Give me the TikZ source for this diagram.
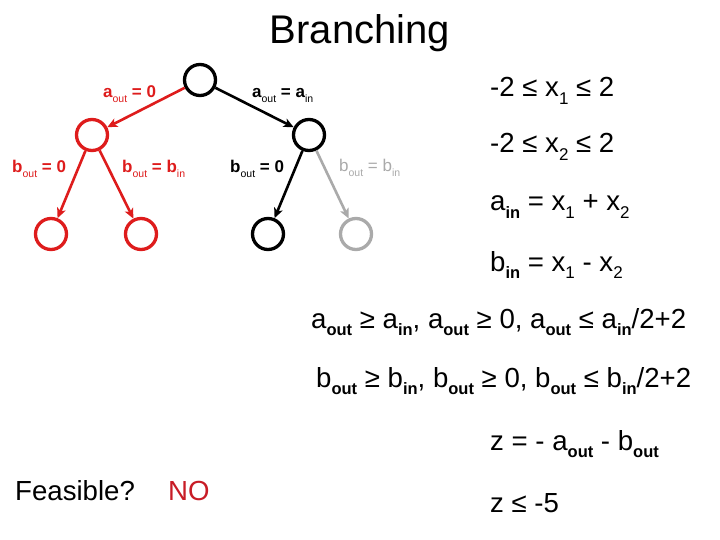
\documentclass[tikz,border=0pt]{standalone}
\usepackage{fontspec}
\setmainfont{Liberation Sans}
\usetikzlibrary{arrows.meta}
\definecolor{myred}{RGB}{222,28,28}
\definecolor{mygray}{RGB}{170,170,170}
\definecolor{nored}{RGB}{200,28,38}
% equation subscripts (bold / regular), label subscripts
\newcommand\sbs[1]{\raisebox{-0.27em}{\fontsize{16.5}{16}\selectfont\bfseries #1}}
\newcommand\nsb[1]{\raisebox{-0.27em}{\fontsize{17}{16}\selectfont #1}}
\newcommand\lsb[1]{\raisebox{-0.25em}{\fontsize{10.5}{10}\selectfont\mdseries #1}}
\begin{document}
\begin{tikzpicture}[x=1pt,y=-1pt,
  nd/.style={circle, draw, line width=3.3pt, minimum size=31pt, inner sep=0pt},
  ed/.style={line width=2.6pt, -{Stealth[length=10pt,width=9pt,inset=2.5pt]}},
  lab/.style={font=\fontsize{17}{18}\selectfont\bfseries, inner sep=0pt, anchor=base west},
  glab/.style={font=\fontsize{17}{18}\selectfont, inner sep=0pt, anchor=base west},
  eq/.style={font=\fontsize{27.6}{30}\selectfont, inner sep=0pt, anchor=base west}]
\useasboundingbox (0,0) rectangle (720,540);
\fill[white] (0,0) rectangle (720,540);

\node[font=\fontsize{40}{44}\selectfont, inner sep=0pt, anchor=base] (title) at (360,44) {Branching};

% tree nodes
\node[nd, draw=black] (root) at (200,80) {};
\node[nd, draw=myred] (l) at (92,135) {};
\node[nd, draw=black] (r) at (309,135) {};
\node[nd, draw=myred] (ll) at (51,234) {};
\node[nd, draw=myred] (lr) at (141,234) {};
\node[nd, draw=black] (rl) at (268,234) {};
\node[nd, draw=mygray] (rr) at (356,234) {};

% edges
\draw[ed, myred] (root) -- (l);
\draw[ed, black] (root) -- (r);
\draw[ed, myred] (l) -- (ll);
\draw[ed, myred] (l) -- (lr);
\draw[ed, black] (r) -- (rl);
\draw[ed, mygray] (r) -- (rr);

% edge labels
\node[lab, text=myred] (la0) at (103,98) {a\lsb{out} = 0};
\node[lab, text=black] (la1) at (252,98) {a\lsb{out} = a\lsb{in}};
\node[lab, text=myred] (lb0) at (12,173) {b\lsb{out} = 0};
\node[lab, text=myred] (lb1) at (122,173) {b\lsb{out} = b\lsb{in}};
\node[lab, text=black] (lb2) at (230,173) {b\lsb{out} = 0};
\node[glab, text=mygray] (lb3) at (339,172) {b\lsb{out} = b\lsb{in}};

% equations
\node[eq] (e1) at (490,97) {-2 ≤ x\nsb{1} ≤ 2};
\node[eq] (e2) at (490,153) {-2 ≤ x\nsb{2} ≤ 2};
\node[eq] (e3) at (490,211) {a\sbs{in} = x\nsb{1} + x\nsb{2}};
\node[eq] (e4) at (490,271) {b\sbs{in} = x\nsb{1} - x\nsb{2}};
\node[eq] (e5) at (311,328) {a\sbs{out} ≥ a\sbs{in}, a\sbs{out} ≥ 0, a\sbs{out} ≤ a\sbs{in}/2+2};
\node[eq] (e6) at (316,387) {b\sbs{out} ≥ b\sbs{in}, b\sbs{out} ≥ 0, b\sbs{out} ≤ b\sbs{in}/2+2};
\node[eq] (e7) at (490,450) {z = - a\sbs{out} - b\sbs{out}};
\node[eq] (e8) at (490,512) {z ≤ -5};

\node[eq] (feas) at (15,500) {Feasible?};
\node[eq, text=nored] (no) at (168,500) {NO};
\end{tikzpicture}
\end{document}
